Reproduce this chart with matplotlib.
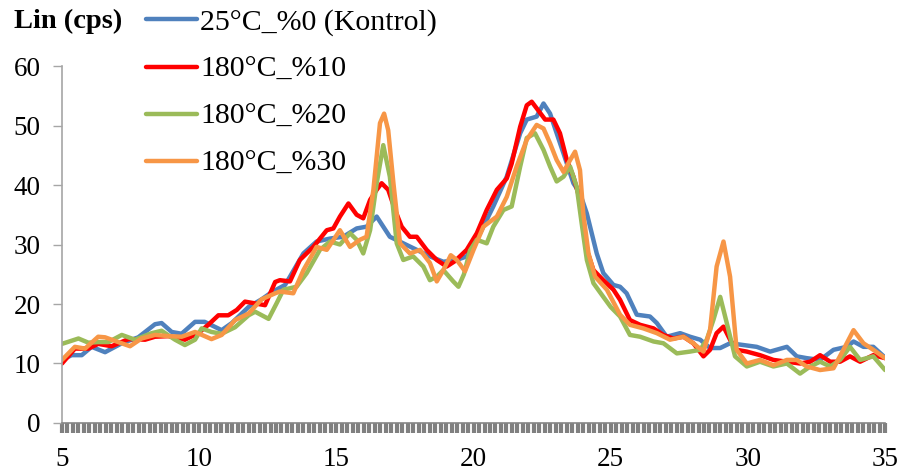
import numpy as np
import matplotlib
matplotlib.use("Agg")
import matplotlib.pyplot as plt
from matplotlib.ticker import MultipleLocator

plt.rcParams['font.family'] = ['Liberation Serif', 'DejaVu Serif']

LABELS = ['25°C_%0 (Kontrol)', '180°C_%10', '180°C_%20', '180°C_%30']
COLORS = ['#4F81BD', '#FF0000', '#9BBB59', '#F79646']

# 2-theta (deg) and intensity (cps) for each sample
x_k0 = [5.0, 5.35, 5.72, 6.08, 6.57, 7.18, 7.78, 8.39, 8.63, 9.0, 9.36, 9.85, 10.2, 10.82,
        11.19, 11.8, 12.28, 12.65, 13.13, 13.31, 13.8, 14.28, 14.77, 15.25, 15.74, 16.1,
        16.47, 16.71, 16.95, 17.44, 17.93, 18.41, 18.9, 19.38, 19.75, 20.24, 20.72, 21.21,
        21.7, 21.94, 22.3, 22.55, 22.79, 23.03, 23.28, 23.64, 23.88, 24.13, 24.49, 24.73,
        25.1, 25.34, 25.58, 25.95, 26.43, 26.68, 27.04, 27.53, 27.89, 28.26, 28.62, 28.99,
        29.35, 29.84, 30.32, 30.81, 31.42, 31.78, 32.14, 32.63, 33.12, 33.6, 33.85, 34.21,
        34.57, 35.0]
y_k0 = [10.6, 11.4, 11.4, 12.8, 11.9, 13.4, 14.4, 16.6, 16.8, 15.3, 15.0, 17.0, 17.0, 15.6,
        16.8, 19.5, 20.8, 22.0, 23.2, 24.6, 28.5, 30.5, 31.0, 31.3, 32.7, 33.0,
        34.7, 33.0, 31.3, 30.2, 29.1, 28.0, 27.1, 27.4, 28.0, 31.9, 36.4, 41.4,
        48.7, 51.0, 51.5, 53.7, 52.0, 48.7, 45.3, 40.3, 38.6, 35.2, 28.5, 25.2,
        23.2, 22.9, 21.8, 18.2, 17.9, 16.8, 14.5, 15.1, 14.5, 14.0, 12.6, 12.6,
        13.4, 13.1, 12.8, 12.0, 12.8, 11.2, 10.9, 10.6, 12.3, 12.8, 13.7, 12.8,
        12.8, 11.0]

x_10 = [5.0, 5.47, 5.96, 6.32, 6.81, 7.42, 8.03, 8.39, 8.88, 9.48, 9.97, 10.33, 10.7, 11.06,
        11.37, 11.67, 12.04, 12.4, 12.77, 12.94, 13.31, 13.67, 14.16, 14.65, 14.89, 15.13,
        15.44, 15.74, 15.98, 16.23, 16.47, 16.65, 16.89, 17.14, 17.38, 17.68, 17.93, 18.29,
        18.66, 19.02, 19.32, 19.75, 20.12, 20.48, 20.85, 21.21, 21.39, 21.7, 21.94, 22.12,
        22.3, 22.61, 22.91, 23.15, 23.4, 23.64, 23.88, 24.13, 24.37, 24.73, 25.1, 25.34,
        25.7, 26.07, 26.56, 26.92, 27.28, 27.65, 28.01, 28.38, 28.62, 28.86, 29.11, 29.35,
        29.59, 29.96, 30.44, 30.93, 31.42, 31.9, 32.27, 32.63, 33.0, 33.36, 33.72, 34.09,
        34.57, 35.0]
y_10 = [10.0, 12.5, 12.5, 13.3, 12.9, 14.1, 14.0, 14.5, 14.6, 14.0, 15.1, 16.5, 18.1, 18.1,
        19.0, 20.4, 20.1, 19.8, 23.7, 24.0, 23.8, 27.4, 29.6, 32.4, 32.7, 34.7,
        36.9, 35.0, 34.4, 37.5, 39.2, 40.3, 39.2, 35.8, 33.0, 31.3, 31.3, 29.1,
        27.4, 26.3, 27.2, 29.1, 31.9, 35.8, 39.2, 41.1, 43.6, 49.8, 53.4, 54.0,
        52.9, 51.0, 51.0, 48.7, 44.2, 41.4, 37.5, 29.1, 25.7, 24.0, 22.4, 20.7,
        17.3, 16.5, 15.9, 14.8, 14.2, 14.5, 13.4, 11.2, 12.3, 15.1, 16.2, 14.0,
        12.3, 12.0, 11.4, 10.6, 10.3, 10.0, 10.3, 11.4, 10.3, 10.3, 11.2, 10.3,
        11.4, 10.9]

x_20 = [5.0, 5.6, 5.96, 6.32, 6.69, 7.18, 7.66, 8.27, 8.63, 9.12, 9.48, 9.85, 10.09, 10.45,
        10.82, 11.31, 11.8, 12.04, 12.53, 12.82, 13.07, 13.55, 13.92, 14.4, 14.77, 15.13,
        15.5, 15.74, 15.98, 16.23, 16.47, 16.71, 16.95, 17.2, 17.44, 17.8, 18.17, 18.41,
        18.66, 18.9, 19.26, 19.45, 19.65, 19.87, 20.12, 20.48, 20.72, 21.09, 21.39, 21.7,
        21.94, 22.24, 22.55, 22.79, 23.03, 23.28, 23.52, 23.76, 23.94, 24.13, 24.37, 24.73,
        25.0, 25.34, 25.7, 26.07, 26.56, 26.92, 27.41, 27.89, 28.26, 28.5, 28.74, 28.99,
        29.23, 29.53, 29.96, 30.44, 30.93, 31.42, 31.9, 32.27, 32.63, 33.0, 33.36, 33.72,
        34.09, 34.57, 35.0]
y_20 = [13.3, 14.2, 13.5, 13.6, 13.6, 14.8, 14.0, 15.1, 15.5, 14.0, 13.1, 14.0, 15.9, 15.3,
        15.0, 16.1, 18.1, 18.7, 17.5, 20.1, 22.4, 22.9, 25.2, 29.1, 30.5, 30.0,
        31.9, 30.8, 28.5, 32.4, 40.3, 46.7, 41.4, 30.2, 27.4, 28.0, 26.3, 24.0,
        24.6, 25.7, 23.8, 22.9, 25.0, 29.0, 30.8, 30.2, 33.0, 35.8, 36.4, 43.1,
        47.9, 48.7, 45.9, 43.1, 40.6, 41.4, 43.1, 39.7, 33.6, 27.4, 23.5, 21.2,
        19.5, 17.9, 14.8, 14.5, 13.7, 13.4, 11.7, 12.0, 12.3, 14.0, 17.3, 21.2,
        16.8, 11.2, 9.5, 10.3, 9.5, 10.0, 8.3, 9.5, 10.3, 9.5, 10.6, 12.8,
        10.6, 11.2, 8.9]

x_30 = [5.0, 5.47, 5.84, 6.32, 6.57, 7.05, 7.48, 7.9, 8.39, 8.88, 9.36, 9.85, 10.45, 10.82,
        11.31, 11.8, 12.28, 12.77, 12.94, 13.43, 13.8, 14.28, 14.65, 15.13, 15.5, 15.86,
        16.1, 16.35, 16.59, 16.74, 16.89, 17.08, 17.32, 17.68, 18.05, 18.41, 18.66, 18.9,
        19.17, 19.39, 19.69, 20.0, 20.36, 20.85, 21.21, 21.57, 21.94, 22.3, 22.55, 22.79,
        23.03, 23.28, 23.52, 23.7, 23.88, 24.0, 24.19, 24.43, 24.86, 25.34, 25.7, 26.19,
        26.68, 27.16, 27.65, 28.01, 28.38, 28.62, 28.86, 29.11, 29.35, 29.59, 29.96, 30.44,
        30.93, 31.42, 31.78, 32.14, 32.63, 33.12, 33.48, 33.85, 34.21, 34.57, 35.0]
y_30 = [10.6, 12.8, 12.5, 14.5, 14.4, 13.6, 12.9, 14.2, 14.8, 14.6, 14.5, 15.3, 14.1, 14.8,
        17.3, 18.4, 20.8, 21.8, 22.1, 21.8, 25.7, 29.6, 29.1, 32.4, 29.6, 30.8,
        31.3, 39.2, 50.4, 52.0, 49.2, 40.3, 30.2, 28.5, 29.1, 26.9, 23.8, 25.7,
        28.2, 27.4, 25.5, 29.1, 33.0, 34.7, 38.0, 43.1, 47.6, 50.1, 49.5, 47.0,
        44.2, 42.2, 44.2, 45.6, 42.5, 35.2, 28.5, 24.6, 22.4, 18.2, 16.5, 15.9,
        15.1, 14.0, 14.5, 13.4, 12.0, 15.6, 26.3, 30.5, 24.6, 12.3, 10.0, 10.6,
        9.7, 10.6, 10.6, 9.5, 8.9, 9.2, 12.3, 15.6, 13.4, 12.3, 10.9]

series_x = [x_k0, x_10, x_20, x_30]
series_y = [y_k0, y_10, y_20, y_30]

fig = plt.figure(figsize=(9.05, 4.75), dpi=100)
ax = fig.add_axes([0.0685, 0.1095, 0.9095, 0.7515])

for xs, ys, lab, col in zip(series_x, series_y, LABELS, COLORS):
    ax.plot(xs, ys, color=col, lw=3.2, label=lab,
            solid_joinstyle='round', solid_capstyle='round')

ax.set_xlim(5, 35)
ax.set_ylim(0, 60)
ax.xaxis.set_major_locator(MultipleLocator(5))
ax.xaxis.set_minor_locator(MultipleLocator(0.2))
ax.yaxis.set_major_locator(MultipleLocator(10))

for s in ['top', 'right']:
    ax.spines[s].set_visible(False)
ax.spines['left'].set_color('#A6A6A6')
ax.spines['bottom'].set_color('#868686')
ax.spines['left'].set_linewidth(1.2)
ax.spines['bottom'].set_linewidth(1.2)

# dense grey tick band under the x axis
ax.tick_params(axis='x', which='major', direction='out', length=7.2, width=3,
               color='#808080', labelsize=19.5, pad=10)
ax.tick_params(axis='x', which='minor', direction='out', length=7.2, width=3,
               color='#808080')
ax.tick_params(axis='y', direction='out', length=6.5, width=1,
               color='#A6A6A6', labelsize=19.5, pad=9)

fig.text(0.016, 0.955, 'Lin (cps)', fontsize=20.5, fontweight='bold', va='center')

leg = fig.legend(loc='upper left', bbox_to_anchor=(0.138, 1.025), frameon=False,
                 fontsize=21.5, handlelength=1.7, handletextpad=0.12,
                 labelspacing=0.67, borderpad=0.2)

fig.savefig('out.png', dpi=100)
